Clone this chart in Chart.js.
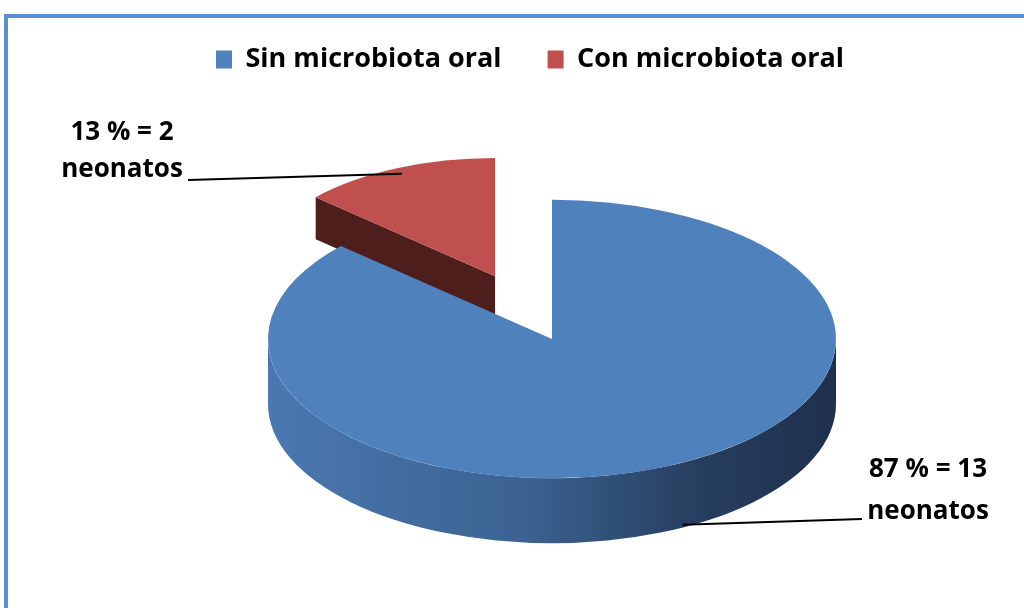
<!DOCTYPE html>
<html>
<head>
<meta charset="utf-8">
<script src="https://cdn.jsdelivr.net/npm/chart.js@4.4.1/dist/chart.umd.min.js"></script>
<style>
html, body { margin: 0; padding: 0; background: #fff; }
#wrap { position: relative; width: 1024px; height: 608px; overflow: hidden; }
#frame { position: absolute; left: 4px; top: 14px; right: -10px; bottom: -10px;
         border-top: 4px solid #5A8ED3; border-left: 4px solid #5A8ED3; }
canvas { position: absolute; left: 0; top: 0; }
</style>
</head>
<body>
<div id="wrap">
  <div id="frame"></div>
  <canvas id="pieChart" width="1024" height="608"></canvas>
</div>
<script>
// data
const categories = ["Sin microbiota oral", "Con microbiota oral"];
const neonatos = [13, 2];
const percents = [87, 13];

// looks
const topColors = ["#4F81BD", "#C0504D"];
const sideDark = ["#1F3350", "#4E1E1D"];
const sideDepth = [65, 42];
const explode = [0, 140];
const shrink = [1, 0.85];

// paint the back slice first
const order = [1, 0];

const CX = 552, CY = 339, TILT = 0.49;
const FONT = '"Open Sans", "DejaVu Sans", sans-serif';

const total = neonatos.reduce((a, b) => a + b, 0);

function baseCenter(chart) {
    const a = chart.chartArea;
    return { x: (a.left + a.right) / 2, y: (a.top + a.bottom) / 2 };
}

function screenCenter(chart, el) {
    const b = baseCenter(chart);
    return { x: CX + el.x - b.x, y: CY + (el.y - b.y) * TILT };
}

const pie3d = {
    id: "pie3d",

    afterDatasetsUpdate(chart) {
        const meta = chart.getDatasetMeta(0);
        meta.data.forEach((el, j) => {
            const i = order[j];
            const mid = (el.startAngle + el.endAngle) / 2;
            el.x += Math.cos(mid) * explode[i];
            el.y += Math.sin(mid) * explode[i];
            el.outerRadius *= shrink[i];
        });
    },

    beforeDatasetsDraw(chart) {
        const ctx = chart.ctx;
        const meta = chart.getDatasetMeta(0);

        meta.data.forEach((el, j) => {
            const i = order[j];
            const c = screenCenter(chart, el);
            const R = el.outerRadius;
            const depth = sideDepth[i];

            // flat cut faces that look toward the viewer
            ctx.fillStyle = sideDark[i];
            [[el.startAngle, 1], [el.endAngle, -1]].forEach(([a, sgn]) => {
                if (-sgn * Math.cos(a) <= 0.001) return;
                const ex = c.x + R * Math.cos(a);
                const ey = c.y + R * Math.sin(a) * TILT;
                ctx.beginPath();
                ctx.moveTo(c.x, c.y);
                ctx.lineTo(ex, ey);
                ctx.lineTo(ex, ey + depth);
                ctx.lineTo(c.x, c.y + depth);
                ctx.closePath();
                ctx.fill();
            });

            // curved front wall
            for (let k = -1; k <= 1; k++) {
                const lo = Math.max(el.startAngle, 2 * Math.PI * k);
                const hi = Math.min(el.endAngle, Math.PI + 2 * Math.PI * k);
                if (hi <= lo) continue;
                const g = ctx.createLinearGradient(c.x - R, 0, c.x + R, 0);
                if (i === 0) {
                    g.addColorStop(0, "#4A78B1");
                    g.addColorStop(0.45, "#3B6291");
                    g.addColorStop(0.75, "#273F60");
                    g.addColorStop(1, "#1E304C");
                } else {
                    g.addColorStop(0, "#7A2E2C");
                    g.addColorStop(1, "#4E1E1D");
                }
                ctx.fillStyle = g;
                ctx.beginPath();
                ctx.ellipse(c.x, c.y, R, R * TILT, 0, lo, hi);
                ctx.ellipse(c.x, c.y + depth, R, R * TILT, 0, hi, lo, true);
                ctx.closePath();
                ctx.fill();
            }
        });

        // squash the pie tops into an ellipse
        const b = baseCenter(chart);
        ctx.save();
        ctx.translate(CX, CY);
        ctx.scale(1, TILT);
        ctx.translate(-b.x, -b.y);
    },

    afterDatasetsDraw(chart) {
        chart.ctx.restore();
    },

    afterDraw(chart) {
        const ctx = chart.ctx;
        const meta = chart.getDatasetMeta(0);
        const spots = [
            { x: 928, lines: [470, 512], from: [862, 519] },
            { x: 122, lines: [133, 170], from: [188, 180] }
        ];

        meta.data.forEach((el, j) => {
            const i = order[j];
            const c = screenCenter(chart, el);
            const mid = (el.startAngle + el.endAngle) / 2;
            let ax, ay;
            if (Math.sin(mid) > 0) {
                ax = c.x + el.outerRadius * Math.cos(mid) + 15;
                ay = c.y + el.outerRadius * Math.sin(mid) * TILT + sideDepth[i] * 0.9;
            } else {
                ax = c.x + el.outerRadius * 0.95 * Math.cos(mid);
                ay = c.y + el.outerRadius * 0.95 * Math.sin(mid) * TILT;
            }
            const s = spots[i];

            ctx.save();
            ctx.strokeStyle = "#000";
            ctx.lineWidth = 2;
            ctx.beginPath();
            ctx.moveTo(s.from[0], s.from[1]);
            ctx.lineTo(ax, ay);
            ctx.stroke();

            ctx.fillStyle = "#000";
            ctx.font = "bold 26px " + FONT;
            ctx.textAlign = "center";
            ctx.textBaseline = "middle";
            ctx.fillText(percents[i] + " % = " + neonatos[i], s.x, s.lines[0]);
            ctx.fillText("neonatos", s.x, s.lines[1]);
            ctx.restore();
        });
    }
};

const ctx =
document.getElementById(
    "pieChart"
);

const pieChart =
new Chart(ctx, {

    type: "pie",

    data: {
        labels: order.map(i => categories[i]),
        datasets: [{
            data: order.map(i => neonatos[i]),
            backgroundColor: order.map(i => topColors[i]),
            borderWidth: 0,
            radius: 284,
            clip: false
        }]
    },

    options: {
        responsive: false,
        animation: false,
        rotation: -360 * neonatos[1] / total,
        layout: { padding: { left: 36, top: 0 } },
        plugins: {
            legend: {
                position: "top",
                reverse: true,
                labels: {
                    boxWidth: 16,
                    boxHeight: 18,
                    padding: 46,
                    color: "#000",
                    font: { family: FONT, size: 27, weight: "bold" }
                }
            },
            tooltip: { enabled: false }
        }
    },

    plugins: [pie3d]

});
</script>
</body>
</html>
